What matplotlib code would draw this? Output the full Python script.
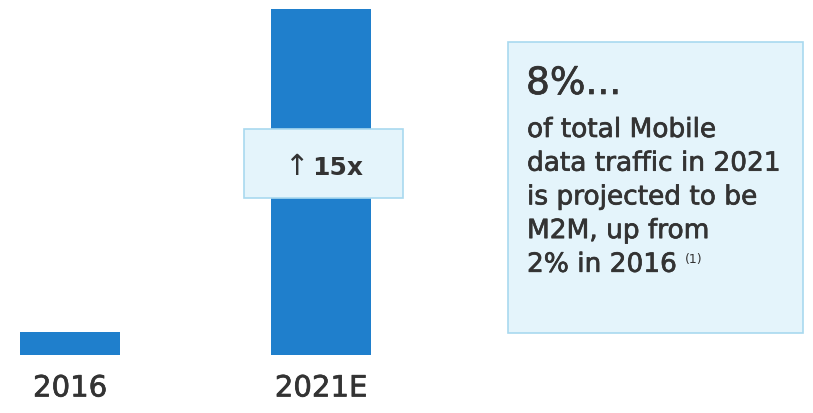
import matplotlib
matplotlib.use("Agg")
import matplotlib.pyplot as plt
import matplotlib.patheffects as pe
from matplotlib.patches import Rectangle

plt.rcParams["font.family"] = ["DejaVu Sans"]

# Data: M2M mobile data traffic, relative to 2016
years = ["2016", "2021E"]
traffic = [1.0, 15.0]
growth_label = "15x"

headline = "8%..."
note_lines = [
    "of total Mobile",
    "data traffic in 2021",
    "is projected to be",
    "M2M, up from",
    "2% in 2016",
]

BAR = "#1f7fcc"
TEXT = "#333333"
BOX_FILL = "#e4f4fb"
BOX_EDGE = "#a9d9ef"

# slightly heavier strokes for a medium-weight look
medium = [pe.withStroke(linewidth=0.5, foreground=TEXT)]

W, H = 813, 413
fig = plt.figure(figsize=(W / 100, H / 100), dpi=100)
fig.patch.set_facecolor("white")

# bar axes: baseline 58 px above the bottom, 346 px tall for the 15x bar
ax = fig.add_axes([0, 58 / H, 406 / W, 346 / H])
ax.set_facecolor("none")
ax.bar(range(len(years)), traffic, width=0.40, color=BAR)
ax.set_xlim(-70 / 251, (406 - 70) / 251)
ax.set_ylim(0, max(traffic))
ax.set_xticks(range(len(years)))
ax.set_xticklabels(years, fontsize=21, color=TEXT)
for lbl in ax.get_xticklabels():
    lbl.set_path_effects(medium)
ax.tick_params(axis="x", length=0, pad=14)
ax.set_yticks([])
for s in ax.spines.values():
    s.set_visible(False)

# growth callout across the tall bar
ax.add_patch(Rectangle((0.693, 6.81), 0.633, 2.99, facecolor=BOX_FILL,
                       edgecolor=BOX_EDGE, lw=1.2, clip_on=False, zorder=3))
ax.text(0.9, 8.15, "\u2191", ha="center", va="center",
        fontsize=21, color=TEXT, zorder=4)
ax.text(1.065, 8.11, growth_label, ha="center", va="center",
        fontsize=18, fontweight="bold", color=TEXT, zorder=4)

# side panel with the share statement
fig.patches.append(Rectangle((508 / W, 1 - 333 / H), 295 / W, 291 / H,
                             transform=fig.transFigure, facecolor=BOX_FILL,
                             edgecolor=BOX_EDGE, lw=1.2))
fig.text(526 / W, 1 - 84 / H, headline, ha="left", va="center",
         fontsize=27, color=TEXT, path_effects=medium)
for i, line in enumerate(note_lines):
    fig.text(527 / W, 1 - (130 + 33.7 * i) / H, line, ha="left",
             va="center", fontsize=19, color=TEXT, path_effects=medium)
fig.text(685 / W, 1 - 259 / H, "(1)", ha="left", va="center",
         fontsize=9, color=TEXT)

fig.savefig("out.png", dpi=100, facecolor="white")
